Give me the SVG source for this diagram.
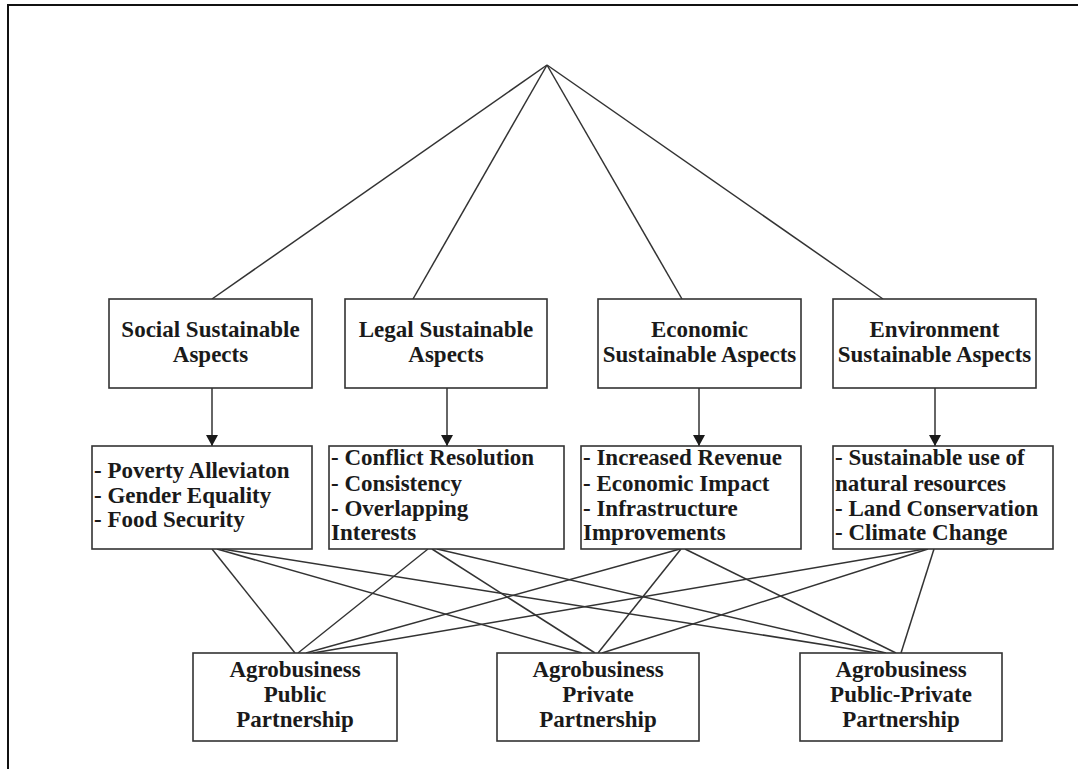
<svg xmlns="http://www.w3.org/2000/svg" width="1078" height="769" viewBox="0 0 1078 769">
<style>
.box{fill:#fff;stroke:#333;stroke-width:1.6}
.t{font-family:"Liberation Serif","Times New Roman",serif;font-weight:bold;font-size:23px;fill:#1a1a1a}
.c{text-anchor:middle}
.ln{stroke:#333;stroke-width:1.5;fill:none}
</style>
<defs>
<marker id="ah" markerWidth="14" markerHeight="14" refX="11" refY="6" orient="auto" markerUnits="userSpaceOnUse">
<path d="M0,0 L11,6 L0,12 Z" fill="#1a1a1a"/>
</marker>
</defs>
<rect width="1078" height="769" fill="#fff"/>
<path d="M8,769 V5 H1078" fill="none" stroke="#111" stroke-width="2"/>
<g id="connectors">
<line class="ln" x1="547" y1="65" x2="212" y2="299"/>
<line class="ln" x1="547" y1="65" x2="413" y2="299"/>
<line class="ln" x1="547" y1="65" x2="682" y2="299"/>
<line class="ln" x1="547" y1="65" x2="883" y2="299"/>
<line class="ln" x1="212" y1="388" x2="212" y2="446" marker-end="url(#ah)"/>
<line class="ln" x1="447" y1="388" x2="447" y2="446" marker-end="url(#ah)"/>
<line class="ln" x1="699" y1="388" x2="699" y2="446" marker-end="url(#ah)"/>
<line class="ln" x1="935" y1="388" x2="935" y2="446" marker-end="url(#ah)"/>
<line class="ln" x1="212" y1="549" x2="295" y2="653"/>
<line class="ln" x1="217" y1="549" x2="582" y2="653"/>
<line class="ln" x1="222" y1="549" x2="876" y2="653"/>
<line class="ln" x1="428" y1="549" x2="298" y2="653"/>
<line class="ln" x1="432" y1="549" x2="595" y2="653"/>
<line class="ln" x1="437" y1="549" x2="886" y2="653"/>
<line class="ln" x1="680" y1="549" x2="306" y2="653"/>
<line class="ln" x1="681" y1="549" x2="598" y2="653"/>
<line class="ln" x1="685" y1="549" x2="896" y2="653"/>
<line class="ln" x1="925" y1="549" x2="313" y2="653"/>
<line class="ln" x1="928" y1="549" x2="602" y2="653"/>
<line class="ln" x1="934" y1="549" x2="901" y2="653"/>
</g>
<g id="social">
<rect class="box" x="109" y="299" width="203" height="89"/>
<text class="t c" x="210.5" y="337">Social Sustainable</text>
<text class="t c" x="210.5" y="362">Aspects</text>
</g>
<g id="legal">
<rect class="box" x="345" y="299" width="202" height="89"/>
<text class="t c" x="446" y="337">Legal Sustainable</text>
<text class="t c" x="446" y="362">Aspects</text>
</g>
<g id="economic">
<rect class="box" x="598" y="299" width="203" height="89"/>
<text class="t c" x="699.5" y="337">Economic</text>
<text class="t c" x="699.5" y="362">Sustainable Aspects</text>
</g>
<g id="environment">
<rect class="box" x="833" y="299" width="203" height="89"/>
<text class="t c" x="934.5" y="337">Environment</text>
<text class="t c" x="934.5" y="362">Sustainable Aspects</text>
</g>
<g id="social-list">
<rect class="box" x="92" y="446" width="220" height="103"/>
<text class="t" x="94" y="478">- Poverty Alleviaton</text>
<text class="t" x="94" y="503">- Gender Equality</text>
<text class="t" x="94" y="527">- Food Security</text>
</g>
<g id="legal-list">
<rect class="box" x="329" y="446" width="235" height="103"/>
<text class="t" x="331" y="465">- Conflict Resolution</text>
<text class="t" x="331" y="491">- Consistency</text>
<text class="t" x="331" y="516">- Overlapping</text>
<text class="t" x="331" y="540">Interests</text>
</g>
<g id="economic-list">
<rect class="box" x="581" y="446" width="220" height="103"/>
<text class="t" x="583" y="465">- Increased Revenue</text>
<text class="t" x="583" y="491">- Economic Impact</text>
<text class="t" x="583" y="516">- Infrastructure</text>
<text class="t" x="583" y="540">Improvements</text>
</g>
<g id="environment-list">
<rect class="box" x="833" y="446" width="220" height="103"/>
<text class="t" x="835" y="465">- Sustainable use of</text>
<text class="t" x="835" y="491">natural resources</text>
<text class="t" x="835" y="516">- Land Conservation</text>
<text class="t" x="835" y="540">- Climate Change</text>
</g>
<g id="public">
<rect class="box" x="193" y="653" width="204" height="88"/>
<text class="t c" x="295" y="677">Agrobusiness</text>
<text class="t c" x="295" y="702">Public</text>
<text class="t c" x="295" y="727">Partnership</text>
</g>
<g id="private">
<rect class="box" x="497" y="653" width="202" height="88"/>
<text class="t c" x="598" y="677">Agrobusiness</text>
<text class="t c" x="598" y="702">Private</text>
<text class="t c" x="598" y="727">Partnership</text>
</g>
<g id="ppp">
<rect class="box" x="800" y="653" width="202" height="88"/>
<text class="t c" x="901" y="677">Agrobusiness</text>
<text class="t c" x="901" y="702">Public-Private</text>
<text class="t c" x="901" y="727">Partnership</text>
</g>
</svg>
